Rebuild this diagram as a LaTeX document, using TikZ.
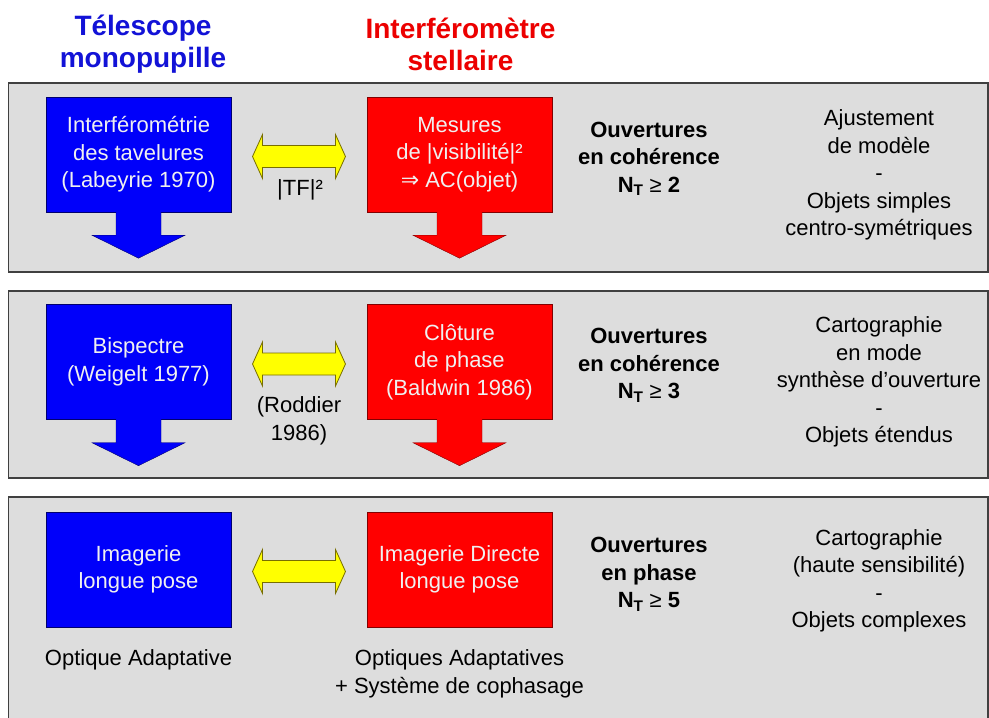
\documentclass[tikz,border=0pt]{standalone}
\usepackage{fontspec}
\setmainfont{Liberation Sans}
\newfontfamily\dejavu{DejaVu Sans}
\usetikzlibrary{calc,positioning}
\definecolor{panelgray}{RGB}{221,221,221}
\definecolor{titleblue}{RGB}{18,18,215}
\definecolor{titlered}{RGB}{236,0,0}
\definecolor{boxblue}{RGB}{0,0,250}
\definecolor{boxred}{RGB}{255,0,0}
\definecolor{edgeblue}{RGB}{0,0,110}
\definecolor{edgered}{RGB}{130,0,0}
\definecolor{boxtextwhite}{RGB}{240,240,240}
\definecolor{arrowyellow}{RGB}{255,255,0}
\definecolor{arrowedge}{RGB}{120,110,0}

\begin{document}
\begin{tikzpicture}[x=1pt,y=-1pt,
  panel/.style={fill=panelgray,draw=black!75,line width=1.1pt},
  boxtext/.style={align=center,inner sep=0pt,font=\fontsize{22}{27.5}\selectfont},
  bluebox/.style={boxtext,draw=edgeblue,fill=boxblue,text=boxtextwhite,minimum width=185,minimum height=115},
  redbox/.style={boxtext,draw=edgered,fill=boxred,text=boxtextwhite,minimum width=185,minimum height=115},
  bigtitle/.style={align=center,inner sep=0pt,font=\fontsize{28}{32}\selectfont\bfseries},
  boldtext/.style={boxtext,font=\fontsize{22}{27.5}\selectfont\bfseries},
  yellowarrow/.style={fill=arrowyellow,draw=arrowedge,line width=0.8pt}]
\useasboundingbox (0,0) rectangle (989,718);
\fill [white] (0,0) rectangle (989,718);
\draw [panel] (8.5,83) rectangle (988,272);
\draw [panel] (8.5,291) rectangle (988,478);
\path [fill=panelgray] (8.5,497) rectangle (988,718);
\draw [line width=1.1pt,black!75] (8.5,718) |- (988,497) -- (988,718);

\node [bigtitle,text=titleblue] (tele) at (143,44) {Télescope\\monopupille};
\node [bigtitle,text=titlered] (inter) at (460.5,44) {Interféromètre\\stellaire};

\node [bluebox] (b1) at (138.5,154.5) {Interférométrie\\des tavelures\\(Labeyrie 1970)};
\node [redbox] (r1) at (459.5,154.5) {Mesures\\de |visibilité|²\\{\dejavu ⇒} AC(objet)};
\node [boldtext] (ouv1) at (649,159) {Ouvertures\\en cohérence\\N\textsubscript{T} {\mdseries ≥} 2};
\node [boxtext] (obj1) at (879,175) {Ajustement\\de modèle\\-\\Objets simples\\centro-symétriques};
\node [boxtext] (tf) at (300,190) {|TF|²};

\node [bluebox] (b2) at (138.5,362) {Bispectre\\(Weigelt 1977)};
\node [redbox] (r2) at (459.5,362) {Clôture\\de phase\\(Baldwin 1986)};
\node [boldtext] (ouv2) at (649,365.5) {Ouvertures\\en cohérence\\N\textsubscript{T} {\mdseries ≥} 3};
\node [boxtext] (obj2) at (879,382) {Cartographie\\en mode\\synthèse d’ouverture\\-\\Objets étendus};
\node [boxtext] (rod) at (299,421) {(Roddier\\1986)};

\node [bluebox] (b3) at (138.5,569.5) {Imagerie\\longue pose};
\node [redbox] (r3) at (459.5,569.5) {Imagerie Directe\\longue pose};
\node [boldtext] (ouv3) at (649,574.5) {Ouvertures\\en phase\\N\textsubscript{T} {\mdseries ≥} 5};
\node [boxtext] (obj3) at (879,581) {Cartographie\\(haute sensibilité)\\-\\Objets complexes};
\node [boxtext,below=22.5pt of b3] (oa) {Optique Adaptative};
\node [boxtext,below=22.5pt of r3] (oas) {Optiques Adaptatives\\+ Système de cophasage};

\foreach \i in {1,2,3} {
  \coordinate (m\i) at ($(b\i.east)!0.5!(r\i.west)+(0,2)$);
  \draw [yellowarrow] (m\i) ++(-46.5,0) -- ++(10,-22) -- ++(0,11) -- ++(73,0) -- ++(0,-11) -- ++(10,22) -- ++(-10,22) -- ++(0,-11) -- ++(-73,0) -- ++(0,11) -- cycle;
}
\foreach \n/\c/\e in {b1/boxblue/edgeblue,r1/boxred/edgered,b2/boxblue/edgeblue,r2/boxred/edgered} {
  \path [fill=\c] (\n.south) ++(-22.5,-1) -- ++(0,24) -- ++(-24,0) -- ++(46.5,23) -- ++(46.5,-23) -- ++(-24,0) -- ++(0,-24) -- cycle;
  \draw [\e] (\n.south) ++(-22.5,0) -- ++(0,23) -- ++(-24,0) -- ++(46.5,23) -- ++(46.5,-23) -- ++(-24,0) -- ++(0,-23);
}
\end{tikzpicture}
\end{document}
